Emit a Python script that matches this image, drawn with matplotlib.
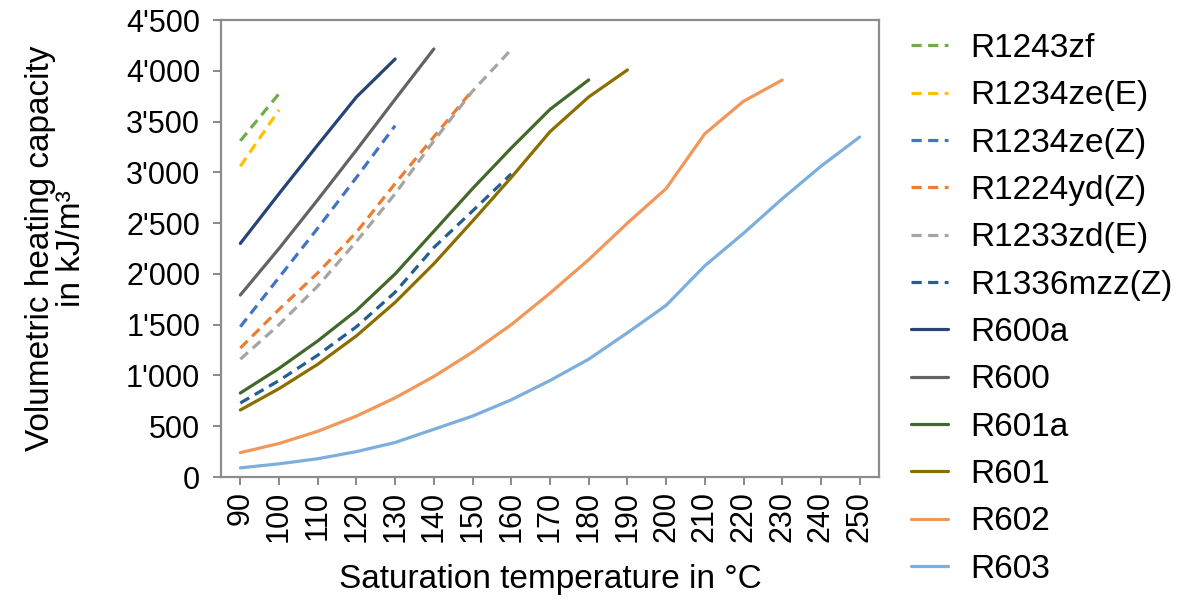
import matplotlib
matplotlib.use("Agg")
import matplotlib.pyplot as plt
from matplotlib.ticker import FuncFormatter

plt.rcParams['font.family'] = ['Liberation Sans', 'DejaVu Sans']

# saturation temperatures (categories on the x axis)
temps = [90, 100, 110, 120, 130, 140, 150, 160, 170, 180, 190, 200, 210, 220, 230, 240, 250]

# volumetric heating capacity in kJ/m3, every series starts at 90 °C
r1243zf = [3310, 3775]
r1234ze_e = [3060, 3615]
r1234ze_z = [1480, 1965, 2450, 2950, 3460]
r1224yd_z = [1270, 1650, 2010, 2410, 2890, 3350, 3810]
r1233zd_e = [1160, 1500, 1880, 2320, 2790, 3310, 3800, 4210]
r1336mzz_z = [729, 950, 1200, 1480, 1820, 2260, 2620, 2985]
r600a = [2300, 2790, 3270, 3742, 4116]
r600 = [1792, 2250, 2730, 3220, 3720, 4215]
r601a = [827, 1070, 1340, 1640, 2000, 2420, 2840, 3240, 3620, 3910]
r601 = [660, 870, 1110, 1390, 1720, 2100, 2520, 2950, 3400, 3742, 4008]
r602 = [240, 330, 450, 600, 780, 990, 1230, 1500, 1810, 2140, 2500, 2840, 3380, 3700, 3909]
r603 = [90, 130, 180, 250, 340, 470, 600, 760, 950, 1160, 1420, 1690, 2080, 2400, 2740, 3060, 3348]

series = [
    ('R1243zf', r1243zf, '#70AD47', 'dash'),
    ('R1234ze(E)', r1234ze_e, '#FFC000', 'dash'),
    ('R1234ze(Z)', r1234ze_z, '#4472C4', 'dash'),
    ('R1224yd(Z)', r1224yd_z, '#ED7D31', 'dash'),
    ('R1233zd(E)', r1233zd_e, '#A5A5A5', 'dash'),
    ('R1336mzz(Z)', r1336mzz_z, '#255E91', 'dash'),
    ('R600a', r600a, '#264478', 'solid'),
    ('R600', r600, '#636363', 'solid'),
    ('R601a', r601a, '#43682B', 'solid'),
    ('R601', r601, '#8C6D00', 'solid'),
    ('R602', r602, '#F1975A', 'solid'),
    ('R603', r603, '#7CAFDD', 'solid'),
]

fig = plt.figure(figsize=(11.99, 6.01), dpi=100)
ax = fig.add_axes([0.1843, 0.2063, 0.5488, 0.7604])

for name, vals, col, style in series:
    ls = (0, (3.2, 2.0)) if style == 'dash' else '-'
    ax.plot(range(len(vals)), vals, color=col, lw=2.3, linestyle=ls, label=name,
            solid_capstyle='round')

ax.set_xlim(-0.5, len(temps) - 0.5)
ax.set_ylim(0, 4500)
ax.set_xticks(range(len(temps)))
ax.set_xticklabels([str(t) for t in temps], rotation=90, fontsize=22)
ax.set_yticks(range(0, 4501, 500))
ax.yaxis.set_major_formatter(FuncFormatter(lambda v, p: f"{int(v):,}".replace(',', "'")))
ax.tick_params(axis='y', labelsize=22, length=6, width=1.3, color='#7f7f7f', pad=9)
ax.tick_params(axis='x', length=6, width=1.3, color='#7f7f7f', pad=4)

for s in ax.spines.values():
    s.set_color('#8c8c8c')
    s.set_linewidth(1.6)

ax.set_xlabel('Saturation temperature in °C', fontsize=24, labelpad=16)
ax.set_ylabel('Volumetric heating capacity\nin kJ/m³', fontsize=24, labelpad=28,
              linespacing=1.0)

fig.legend(loc='upper left', bbox_to_anchor=(0.735, 0.995), frameon=False, fontsize=24,
           handlelength=1.1, handletextpad=0.66, labelspacing=0.49)

fig.savefig('out.png', dpi=100)
